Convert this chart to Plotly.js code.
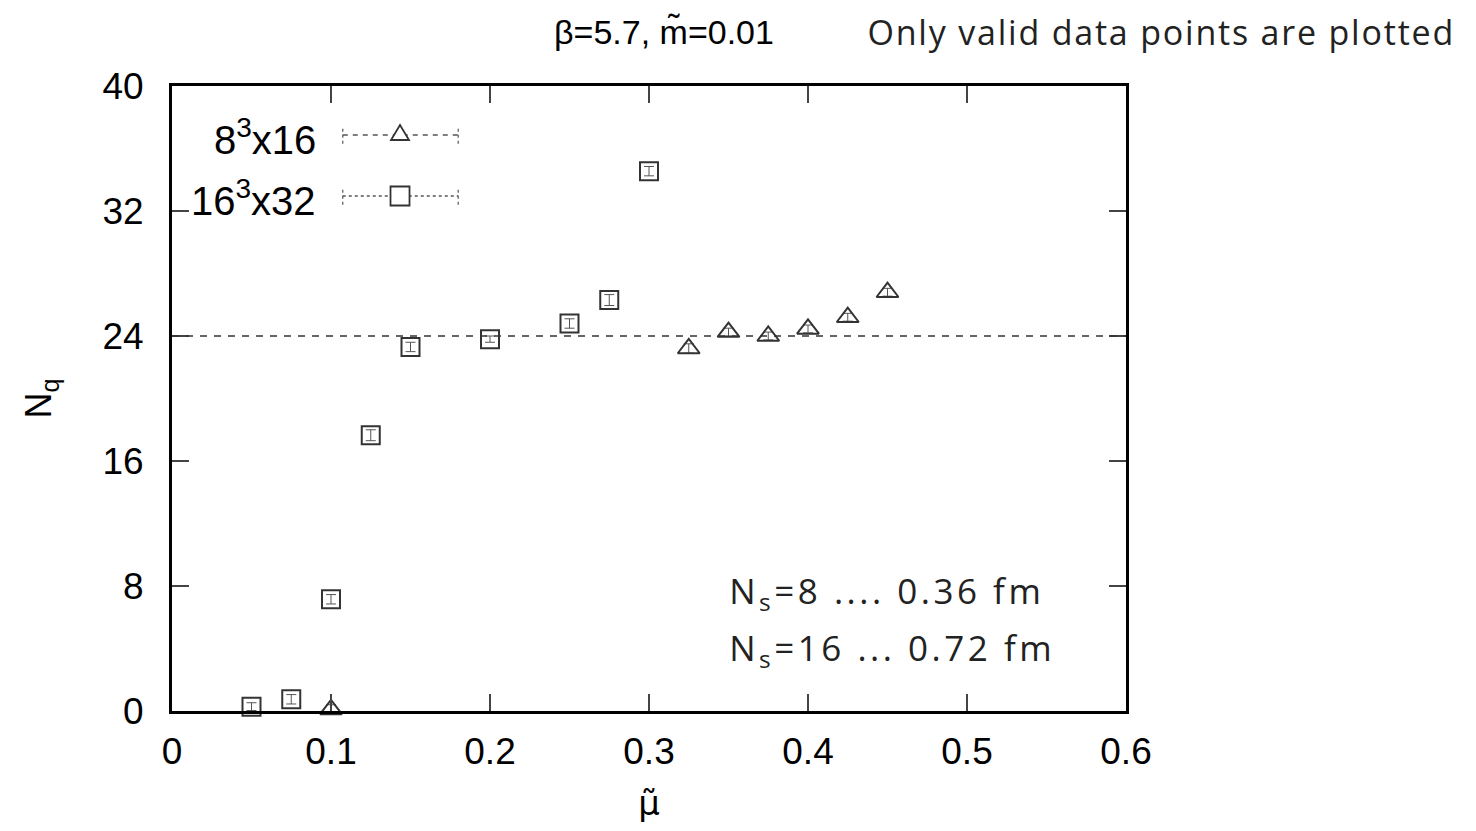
<!DOCTYPE html>
<html>
<head>
<meta charset="utf-8">
<script src="https://cdn.plot.ly/plotly-3.0.1.min.js"></script>
<style>
html,body{margin:0;padding:0;background:#fff;}
#chart{width:1476px;height:831px;}
#chart g.annotation[data-index="2"] text,
#chart g.annotation[data-index="3"] text{letter-spacing:3.5px;}
#chart g.annotation[data-index="5"] text{letter-spacing:1.8px;}
</style>
</head>
<body>
<div id="chart"></div>
<script>
// 16^3 x 32 lattice
var mu16 = [0.05, 0.075, 0.1, 0.125, 0.15, 0.2, 0.25, 0.275, 0.3];
var nq16 = [0.28, 0.75, 7.15, 17.65, 23.3, 23.8, 24.8, 26.3, 34.55];
var err16 = [0.25, 0.3, 0.3, 0.35, 0.3, 0.2, 0.3, 0.35, 0.3];
// 8^3 x 16 lattice
var mu8 = [0.1, 0.325, 0.35, 0.375, 0.4, 0.425, 0.45];
var nq8 = [0.1, 23.2, 24.25, 24.0, 24.45, 25.2, 26.8];
var err8 = [0.3, 0.3, 0.25, 0.25, 0.25, 0.25, 0.25];
var refLevel = 24;
var xTicks = [0, 0.1, 0.2, 0.3, 0.4, 0.5, 0.6];
var yTicks = [0, 8, 16, 24, 32, 40];

var mcol = '#333333';
var traces = [
  {x: mu16, y: nq16, type: 'scatter', mode: 'markers', name: '16³x32',
   marker: {symbol: 'square-open', size: 18, color: mcol, line: {width: 2, color: mcol}},
   error_y: {type: 'data', array: err16, visible: true, color: '#555', thickness: 1, width: 5},
   showlegend: false, cliponaxis: false},
  {x: mu8, y: nq8, type: 'scatter', mode: 'markers', name: '8³x16',
   marker: {symbol: 'triangle-up-open', size: 19, color: mcol, line: {width: 2, color: mcol}},
   error_y: {type: 'data', array: err8, visible: true, color: '#555', thickness: 1, width: 5},
   showlegend: false, cliponaxis: false}
];

var sansFam = 'Liberation Sans, Arial, sans-serif';
var axFont = {family: sansFam, size: 37, color: '#000'};
var lightFont = {family: 'Open Sans, sans-serif', size: 35, color: '#222'};

// legend geometry (paper coords)
var lgX0 = 0.179, lgX1 = 0.300, lgXm = 0.239, lgY1 = 0.9216, lgY2 = 0.824;

var shapes = [
  {type: 'line', xref: 'paper', x0: 0, x1: 1, yref: 'y', y0: refLevel, y1: refLevel,
   line: {color: '#333', width: 1.5, dash: '7px,7px'}},
  // legend row 1 (dashed)
  {type: 'line', xref: 'paper', yref: 'paper', x0: lgX0, x1: lgX1, y0: lgY1, y1: lgY1,
   line: {color: '#555', width: 1.5, dash: '5px,5px'}},
  {type: 'line', xref: 'paper', yref: 'paper', x0: lgX0, x1: lgX0, y0: lgY1 - 0.014, y1: lgY1 + 0.014,
   line: {color: '#555', width: 1.2, dash: 'dot'}},
  {type: 'line', xref: 'paper', yref: 'paper', x0: lgX1, x1: lgX1, y0: lgY1 - 0.014, y1: lgY1 + 0.014,
   line: {color: '#555', width: 1.2, dash: 'dot'}},
  {type: 'path', xref: 'paper', yref: 'paper', xsizemode: 'pixel', ysizemode: 'pixel',
   xanchor: lgXm, yanchor: lgY1, path: 'M -9 -5 L 9 -5 L 0 10 Z',
   line: {color: mcol, width: 1.8}, fillcolor: 'rgba(255,255,255,1)'},
  // legend row 2 (dotted)
  {type: 'line', xref: 'paper', yref: 'paper', x0: lgX0, x1: lgX1, y0: lgY2, y1: lgY2,
   line: {color: '#555', width: 1.5, dash: 'dot'}},
  {type: 'line', xref: 'paper', yref: 'paper', x0: lgX0, x1: lgX0, y0: lgY2 - 0.014, y1: lgY2 + 0.014,
   line: {color: '#555', width: 1.2, dash: 'dot'}},
  {type: 'line', xref: 'paper', yref: 'paper', x0: lgX1, x1: lgX1, y0: lgY2 - 0.014, y1: lgY2 + 0.014,
   line: {color: '#555', width: 1.2, dash: 'dot'}},
  {type: 'path', xref: 'paper', yref: 'paper', xsizemode: 'pixel', ysizemode: 'pixel',
   xanchor: lgXm, yanchor: lgY2, path: 'M -9.5 -9.5 L 9.5 -9.5 L 9.5 9.5 L -9.5 9.5 Z',
   line: {color: mcol, width: 1.8}, fillcolor: 'rgba(255,255,255,1)'}
];

var annotations = [
  {xref: 'paper', yref: 'paper', x: 0.153, y: lgY1 - 0.003, xanchor: 'right', yanchor: 'middle', showarrow: false,
   text: '8<sup>3</sup>x16', font: {family: sansFam, size: 40, color: '#000'}},
  {xref: 'paper', yref: 'paper', x: 0.153, y: lgY2 - 0.003, xanchor: 'right', yanchor: 'middle', showarrow: false,
   text: '16<sup>3</sup>x32', font: {family: sansFam, size: 40, color: '#000'}},
  {xref: 'paper', yref: 'paper', x: 0.749, y: 0.19, xanchor: 'center', yanchor: 'middle', showarrow: false,
   text: 'N<sub>s</sub>=8 .... 0.36 fm', font: lightFont},
  {xref: 'paper', yref: 'paper', x: 0.755, y: 0.098, xanchor: 'center', yanchor: 'middle', showarrow: false,
   text: 'N<sub>s</sub>=16 ... 0.72 fm', font: lightFont},
  {xref: 'paper', yref: 'paper', x: 0.516, y: 1.086, xanchor: 'center', yanchor: 'middle', showarrow: false,
   text: 'β=5.7, m\u0303=0.01', font: {family: sansFam, size: 34, color: '#000'}},
  {xref: 'paper', yref: 'paper', x: 1.0377, y: 1.086, xanchor: 'center', yanchor: 'middle', showarrow: false,
   text: 'Only valid data points are plotted', font: {family: 'Open Sans, sans-serif', size: 34, color: '#222'}}
];

var layout = {
  width: 1476, height: 831,
  margin: {l: 172, r: 350, t: 86, b: 120, pad: 0},
  paper_bgcolor: '#fff', plot_bgcolor: '#fff',
  showlegend: false,
  xaxis: {range: [0, 0.6], tickvals: xTicks, ticktext: xTicks.map(String),
          ticks: 'inside', ticklen: 17, tickwidth: 2, tickcolor: '#444',
          showline: true, linewidth: 3, linecolor: '#000', mirror: 'ticks',
          showgrid: false, zeroline: false, tickfont: axFont, ticklabelstandoff: 6,
          title: {text: 'μ\u0303', font: {family: 'DejaVu Sans, sans-serif', size: 34, color: '#000'}, standoff: 20}},
  yaxis: {range: [0, 40], tickvals: yTicks, ticktext: yTicks.map(String),
          ticks: 'inside', ticklen: 17, tickwidth: 2, tickcolor: '#444',
          showline: true, linewidth: 3, linecolor: '#000', mirror: 'ticks',
          showgrid: false, zeroline: false, tickfont: axFont, ticklabelstandoff: 18,
          title: {text: 'N<sub>q</sub>', font: {family: sansFam, size: 36, color: '#000'}, standoff: 40}},
  shapes: shapes,
  annotations: annotations
};

Plotly.newPlot('chart', traces, layout, {staticPlot: true, displayModeBar: false});
</script>
</body>
</html>
